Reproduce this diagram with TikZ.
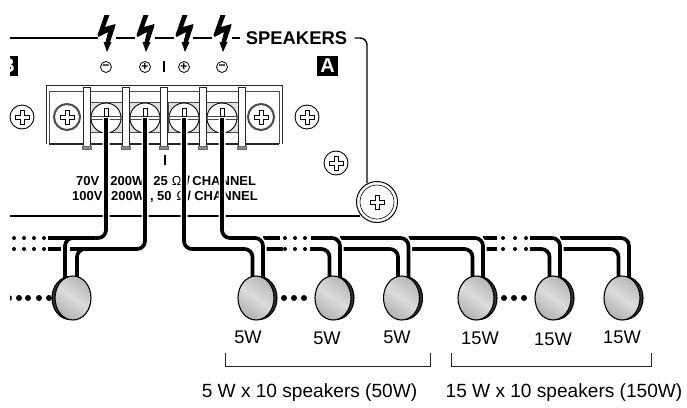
\documentclass[tikz,border=0pt]{standalone}
\usepackage{fontspec}
\setmainfont{Liberation Sans}
\usetikzlibrary{calc}
\usetikzlibrary{shapes.geometric}
\tikzset{>=latex}
\tikzstyle{panelline}=[black,line width=1.4pt,rounded corners=7pt]
\tikzstyle{thinline}=[black!85,line width=0.8pt]
\tikzstyle{wire}=[black,line width=3.7pt,rounded corners=8pt,preaction={draw,white,line width=7pt}]
\tikzstyle{busend}=[black,line width=3.7pt]
\tikzstyle{speaker}=[shape=ellipse,draw=black,line width=1.1pt,minimum width=36pt,minimum height=44pt,inner sep=0pt,shading=axis,top color=black!28,bottom color=black!30,middle color=black!14,shading angle=-35]
\tikzstyle{speakerback}=[shape=ellipse,draw=black,fill=black!80,line width=1.1pt,minimum width=36pt,minimum height=43pt,inner sep=0pt]
\tikzstyle{screw}=[shape=circle,draw=black,fill=white,line width=0.9pt,minimum size=24pt,inner sep=0pt]
\tikzstyle{blockscrew}=[shape=circle,draw=black!70,fill=white,line width=2pt,minimum size=26pt,inner sep=0pt]
\tikzstyle{termscrew}=[shape=circle,draw=black,fill=white,line width=0.9pt,minimum size=30pt,inner sep=0pt]
\tikzstyle{polarity}=[shape=circle,draw=black,line width=0.8pt,minimum size=11pt,inner sep=0pt,font=\fontsize{12}{12}\selectfont\bfseries]
\tikzstyle{watt}=[font=\fontsize{18.3}{18.3}\selectfont]
\tikzstyle{caption}=[font=\fontsize{19.1}{20}\selectfont]
\tikzstyle{small}=[anchor=west,inner sep=0pt,font=\fontsize{13}{14}\selectfont\bfseries]
\tikzstyle{portbox}=[fill=black,text=white,font=\fontsize{20}{20}\selectfont\bfseries,minimum width=21pt,minimum height=20pt,inner sep=0pt]
\tikzset{bolt/.pic={\fill[black] (-2.5,-37) -- (2.5,-37) -- (-2,-25) -- (8.5,-28) -- (8,-25) -- (3,-10) -- (4.5,-10) -- (0,0) -- (-3.5,-10) -- (-1.5,-10) -- (1,-20) -- (-8.5,-15) -- (-9.5,-17) -- cycle;}}
\tikzset{plus/.pic={\draw[black,line width=0.8pt,fill=white] (-2,-7) -- (2,-7) -- (2,-2) -- (7,-2) -- (7,2) -- (2,2) -- (2,7) -- (-2,7) -- (-2,2) -- (-7,2) -- (-7,-2) -- (-2,-2) -- cycle;}}
\begin{document}
\begin{tikzpicture}[x=1pt,y=-1pt]
	\useasboundingbox (0,0) rectangle (687,407);
	
	% Panel outline
	\coordinate (paneltl) at (10,38);
	\coordinate (panelbl) at (10,216);
	\coordinate (panelbr) at (360,216);
	\coordinate (panelcorner) at (367,38);
	\coordinate (panelend) at (367,183);
	\node[font=\fontsize{18.4}{18.4}\selectfont\bfseries] (speakerslabel) at (296.5,38) {SPEAKERS};
	\foreach \n/\x in {1/107,2/146,3/185,4/223} {
		\coordinate (bolt\n) at (\x,52);
		\pic at (bolt\n) {bolt};
	}
	\draw[panelline] (paneltl) -- (98,38);
	\foreach \a/\b in {116/135,155/174,193/212,232/240} {
		\coordinate (la\a) at (\a,38);
		\coordinate (lb\a) at (\b,38);
		\draw[panelline] (la\a) -- (lb\a);
	}
	\draw[panelline] (speakerslabel.east) ++(4,0) -| (panelend);
	\draw[panelline] (panelbl) -- (panelbr);
	
	% A and B
	\begin{scope}
	\clip (10,50) rectangle (345,80);
	\node[portbox] (portb) at (7.5,66) {B};
	\end{scope}
	\node[portbox] (porta) at (327.5,66) {A};
	\node[polarity] (pol1) at (106,67) {\raisebox{0.5pt}{−}};
	\node[polarity] (pol2) at (145,67) {+};
	\node[polarity] (pol3) at (184,67) {+};
	\node[polarity] (pol4) at (222,67) {−};
	\coordinate (bara) at (164,61);
	\coordinate (barb) at (164,72);
	\draw[black,line width=1.4pt] (bara) -- (barb);
	
	% Terminal block
	\draw[black!85,line width=0.9pt] (46,144) -- (46,85) -- (282,85) -- (282,144);
	\draw[black!70,line width=0.7pt] (49,144) -- (49,91) -- (279,91) -- (279,144);
	\foreach \a/\b in {49/83,90/123,129/161,167/199,207/238,246/279} {
		\draw[black!85,line width=1.2pt] (\a,144) -- (\b,144);
	}
	\foreach \n/\x in {1/106,2/145,3/184,4/222} {
		\draw[black!70,line width=0.7pt,fill=black!12] (\x-16,102) rectangle (\x+16,132);
		\node[termscrew] (t\n) at (\x,118) {};
		\draw[black!70,line width=0.8pt] (\x-16,116.5) -- (\x+16,116.5);
		\draw[black!70,line width=0.8pt] (\x-16,119.5) -- (\x+16,119.5);
		\draw[black,line width=0.7pt,fill=white] (\x-2,108) rectangle (\x+2,116);
	}
	\foreach \a in {83,122,160,199,238} {
		\draw[black!85,line width=0.8pt,fill=white] (\a,87) rectangle (\a+7,146);
		\draw[black!60,line width=0.6pt,fill=black!45] (\a-1,146) rectangle (\a+8,149);
	}
	\foreach \nm/\x/\y/\st in {sa/22/117/screw,sb/67/117/blockscrew,sc/261/117/blockscrew,sd/307/117/screw,se/336/163/screw} {
		\node[\st] (\nm) at (\x,\y) {};
		\pic at (\nm) {plus};
	}
	\node[shape=circle,draw=black,fill=white,line width=1pt,minimum size=41pt,inner sep=0pt] (bigscrew) at (377,202) {};
	\node[shape=circle,draw=black,line width=0.6pt,minimum size=34pt,inner sep=0pt] (bigscrewb) at (377,202) {};
	\pic at (bigscrew) {plus};
	
	% Panel text
	\coordinate (barc) at (165,155);
	\coordinate (bard) at (165,165);
	\draw[black,line width=1.4pt] (barc) -- (bard);
	\node[small] (ratea) at (76,181) {70V\hspace{11pt}200W\hspace{9pt}25\hspace{4pt}{\mdseries Ω}\hspace{5pt}/\hspace{2.4pt}CHANNEL};
	\node[small] (rateb) at (72,197) {100V\hspace{8.6pt}200W\hspace{5pt},\hspace{3.4pt}50\hspace{5pt}{\mdseries Ω}\hspace{1pt}/\hspace{3.4pt}CHANNEL};
	
	% Speaker positions
	\foreach \n/\x in {1/256,2/333,3/401.5,4/476,5/553,6/622} {
		\coordinate (c\n) at (\x,298);
		\coordinate (l\n) at (\x-3.5,279);
		\coordinate (r\n) at (\x+7,279);
	}
	\coordinate (c0) at (73,298);
	\coordinate (l0) at (65,279);
	\coordinate (r0) at (77,279);
	\coordinate (upbus) at (0,238);
	\coordinate (lowbus) at (0,249);
	\coordinate (dotua) at (311,238);
	\coordinate (dotla) at (310,249);
	\coordinate (dotub) at (530,238);
	\coordinate (dotlb) at (530,249);
	
	% Buses, drawn from the far end
	\foreach \n/\ua/\la in {6/r5|-upbus/r5|-lowbus,5/dotub/dotlb} {
		\draw[wire] (\la) -| (l\n);
		\draw[wire] (\ua) -| (r\n);
	}
	\coordinate (enda) at (497,238);
	\coordinate (endb) at (497,249);
	\draw[busend] (r4|-upbus) -- (enda);
	\draw[busend] (r4|-lowbus) -- (endb);
	\foreach \n/\ua/\la in {4/r3|-upbus/r3|-lowbus,3/r2|-upbus/r2|-lowbus,2/dotua/dotla} {
		\draw[wire] (\la) -| (l\n);
		\draw[wire] (\ua) -| (r\n);
	}
	\coordinate (endc) at (280,238);
	\coordinate (endd) at (283,249);
	\draw[busend] (r1|-upbus) -- (endc);
	\draw[busend] (r1|-lowbus) -- (endd);
	\draw[wire] (t3.center) |- (l1|-lowbus) -- (l1);
	\draw[wire] (t4.center) |- (r1|-upbus) -- (r1);
	
	% Left speaker wires
	\coordinate (enda0) at (48,238);
	\coordinate (endb0) at (48,249);
	\coordinate (endc0) at (61,249);
	\coordinate (endd0) at (70,249);
	\coordinate (ende0) at (95,238);
	\coordinate (endf0) at (92,249);
	\draw[busend] (endb0) -- (endc0);
	\draw[wire] (t2.center) |- (r0|-lowbus) -- (r0);
	\draw[busend] (endd0) -- (endf0);
	\draw[wire] (t1.center) |- (enda0);
	\draw[wire] (l0) |- (ende0);
	\draw[busend] (ende0) -- (enda0);
	
	% Dots
	\foreach \x in {14,24,34,44,285,295,305,503,515,526} {
		\fill[black] (\x,238) circle (2);
		\fill[black] (\x,249) circle (2);
	}
	\foreach \x in {19,28,39,49,284,294,304,504,514,524} {
		\fill[black] (\x,298) circle (3);
	}
	\fill[black] (10,295.5) -- (11.5,296) -- (11.5,300) -- (10,300.5) -- cycle;
	
	% Speakers
	\node[speakerback] (b0) at ($(c0)+(-3,0)$) {};
	\node[speaker] (s0) at (c0) {};
	\foreach \n in {1,...,6} {
		\node[speakerback] (b\n) at ($(c\n)+(3,0)$) {};
		\node[speaker] (s\n) at (c\n) {};
	}
	
	% Labels
	\foreach \n/\x/\y/\w in {a/248/337/5W,b/327/338/5W,c/397/337/5W,d/480/338/15W,e/553/339/15W,f/622/337/15W} {
		\node[watt] (w\n) at (\x,\y) {\w};
	}
	\coordinate (ba) at (225,353);
	\coordinate (bb) at (225,366);
	\coordinate (bc) at (430,366);
	\coordinate (bd) at (430,353);
	\coordinate (be) at (451,353);
	\coordinate (bf) at (451,366);
	\coordinate (bg) at (651,366);
	\coordinate (bh) at (651,353);
	\draw[thinline] (ba) -- (bb) -- (bc) -- (bd);
	\draw[thinline] (be) -- (bf) -- (bg) -- (bh);
	\node[caption] (capa) at (309.5,393) {5 W x 10 speakers (50W)};
	\node[caption] (capb) at (564,393) {15 W x 10 speakers (150W)};
	
\end{tikzpicture}
\end{document}
